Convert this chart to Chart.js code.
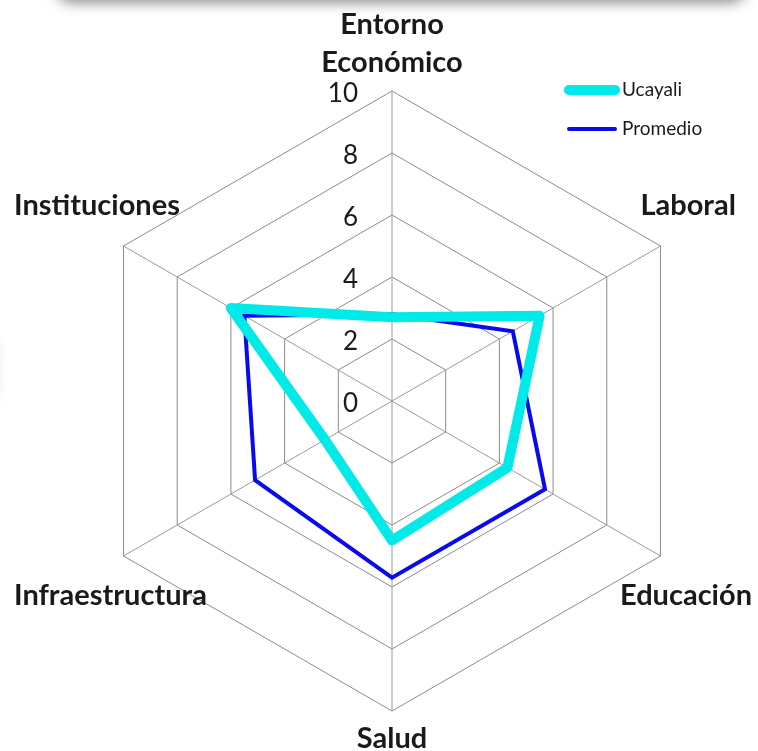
<!DOCTYPE html>
<html>
<head>
<meta charset="utf-8">
<script src="https://cdn.jsdelivr.net/npm/chart.js@4.4.0/dist/chart.umd.min.js"></script>
<style>
  html, body { margin: 0; padding: 0; background: #fff; overflow: hidden; }
  #wrap { position: relative; width: 758px; height: 751px; overflow: hidden; }
  .shadowTop {
    position: absolute; left: 56px; top: -64px; width: 690px; height: 60px;
    background: #fff; border-radius: 16px; box-shadow: 0 6px 14px rgba(0,0,0,0.5);
  }
  .shadowLeft {
    position: absolute; left: -46px; top: 335px; width: 40px; height: 70px;
    background: #fff; border-radius: 16px; box-shadow: 0 0 14px rgba(0,0,0,0.22);
  }
  canvas { position: absolute; left: 0; top: 0; }
</style>
</head>
<body>
<div id="wrap">
  <div class="shadowTop"></div>
  <div class="shadowLeft"></div>
  <canvas id="radar" width="758" height="751"></canvas>
</div>
<script>
document.addEventListener("DOMContentLoaded", function () {

  const categories = [["Entorno", "Económico"], "Laboral", "Educación", "Salud", "Infraestructura", "Instituciones"];
  const ucayali = [2.7, 5.5, 4.3, 4.5, 2.5, 6.0];
  const promedio = [2.8, 4.5, 5.7, 5.7, 5.1, 5.5];
  const tickValues = [0, 2, 4, 6, 8, 10];

  const FONT = "Lato, 'Open Sans', sans-serif";

  // labels, ticks and legend drawn by hand to get the Excel-like placement
  const decorations = {
    id: "decorations",
    afterDraw(chart) {
      const ctx = chart.ctx;
      const scale = chart.scales.r;
      const R = scale.drawingArea;

      ctx.save();
      ctx.fillStyle = "#1a1a1a";
      ctx.textBaseline = "middle";

      // tick labels, right aligned just left of the vertical axis
      ctx.font = "26px " + FONT;
      ctx.textAlign = "right";
      tickValues.forEach(function (v) {
        const d = scale.getDistanceFromCenterForValue(v);
        ctx.fillText(String(v), scale.xCenter - 34, scale.yCenter - d + 3);
      });

      // category labels
      ctx.font = "bold 29px " + FONT;
      ctx.textAlign = "center";
      categories.forEach(function (label, i) {
        const p = scale.getPointPosition(i, R);
        const ux = (p.x - scale.xCenter) / R;
        const uy = (p.y - scale.yCenter) / R;
        const lines = Array.isArray(label) ? label : [label];
        if (Math.abs(ux) < 0.01) {
          const step = 38;
          lines.forEach(function (t, k) {
            let y;
            if (uy < 0) y = p.y - 28 - (lines.length - 1 - k) * step;
            else y = p.y + 28 + k * step;
            ctx.fillText(t, p.x, y);
          });
        } else {
          let x = p.x + ux * 32;
          const y = p.y + uy * 32 + Math.sign(uy) * 24;
          const w = ctx.measureText(lines[0]).width;
          x = Math.max(x, 14 + w / 2);
          x = Math.min(x, chart.width - 6 - w / 2);
          ctx.fillText(lines[0], x, y);
        }
      });

      // legend
      const items = chart.data.datasets;
      ctx.font = "19px " + FONT;
      ctx.textAlign = "left";
      items.forEach(function (ds, k) {
        const y = 90 + k * 39;
        ctx.beginPath();
        ctx.strokeStyle = ds.borderColor;
        ctx.lineWidth = ds.borderWidth;
        ctx.lineCap = "round";
        ctx.moveTo(569, y);
        ctx.lineTo(615, y);
        ctx.stroke();
        ctx.fillStyle = "#1a1a1a";
        ctx.fillText(ds.label, 622, y);
      });
      ctx.restore();
    }
  };

  new Chart(document.getElementById("radar"), {
    type: "radar",
    data: {
      labels: categories,
      datasets: [{
        label: "Ucayali",
        data: ucayali,
        borderColor: "#00eaea",
        borderWidth: 10,
        fill: false,
        pointRadius: 0,
        pointHoverRadius: 0,
        borderJoinStyle: "round"
      }, {
        label: "Promedio",
        data: promedio,
        borderColor: "#0a0aee",
        borderWidth: 4,
        fill: false,
        pointRadius: 0,
        pointHoverRadius: 0
      }]
    },
    options: {
      responsive: false,
      animation: false,
      layout: { padding: { left: 26, right: 0, top: 91, bottom: 40 } },
      plugins: {
        legend: { display: false },
        tooltip: { enabled: false }
      },
      scales: {
        r: {
          min: 0,
          max: 10,
          ticks: { display: false, stepSize: 2 },
          pointLabels: { display: false },
          grid: { color: "#8a8a8a", lineWidth: 1 },
          angleLines: { color: "#9a9a9a", lineWidth: 1 }
        }
      }
    },
    plugins: [decorations]
  });

});
</script>
</body>
</html>
